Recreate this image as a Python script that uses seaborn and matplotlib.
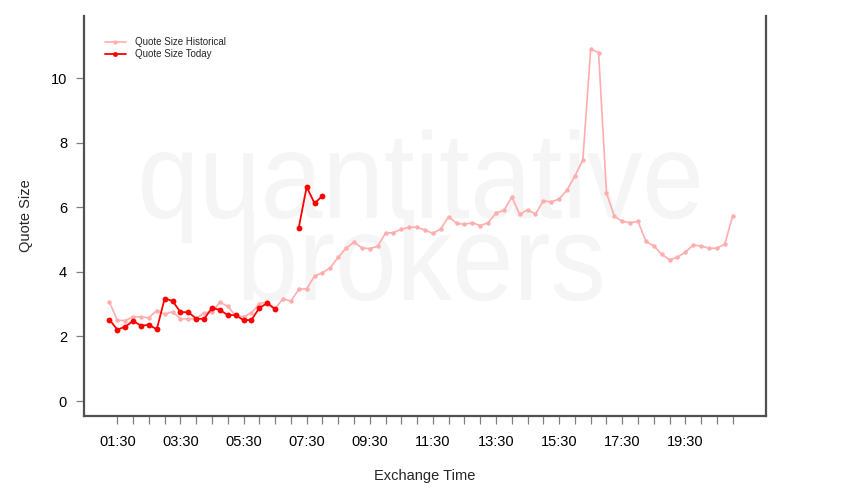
import numpy as np
import pandas as pd
import matplotlib
matplotlib.use("Agg")
import matplotlib.pyplot as plt
from matplotlib.lines import Line2D
from matplotlib.patheffects import AbstractPathEffect
from matplotlib.transforms import Affine2D
import seaborn as sns

# ---------------- data ----------------
start_time = "01:15"
step = "15min"
historical = [3.06, 2.50, 2.49, 2.61, 2.60, 2.58, 2.80, 2.69, 2.76, 2.55,
              2.54, 2.55, 2.73, 2.76, 3.06, 2.93, 2.64, 2.61, 2.73, 3.01,
              3.07, 2.86, 3.17, 3.09, 3.46, 3.47, 3.87, 3.97, 4.13, 4.45,
              4.73, 4.92, 4.74, 4.72, 4.79, 5.20, 5.21, 5.32, 5.38, 5.38,
              5.29, 5.19, 5.33, 5.71, 5.50, 5.47, 5.52, 5.43, 5.52, 5.82,
              5.90, 6.32, 5.78, 5.92, 5.79, 6.20, 6.16, 6.26, 6.53, 6.97,
              7.46, 10.90, 10.78, 6.44, 5.72, 5.56, 5.52, 5.56, 4.94, 4.80,
              4.54, 4.37, 4.45, 4.61, 4.83, 4.80, 4.73, 4.73, 4.86, 5.74]
today = [2.52, 2.21, 2.30, 2.48, 2.33, 2.36, 2.22, 3.17, 3.10, 2.75,
         2.75, 2.55, 2.54, 2.88, 2.82, 2.66, 2.66, 2.50, 2.51, 2.88,
         3.03, 2.84, np.nan, np.nan, 5.37, 6.63, 6.12, 6.35]
tick_labels = ["01:30", "03:30", "05:30", "07:30", "09:30",
               "11:30", "13:30", "15:30", "17:30", "19:30"]
y_ticks = [0, 2, 4, 6, 8, 10]
series_names = ["Quote Size Historical", "Quote Size Today"]
watermark = ["quantitative", "brokers"]


class HStretch(AbstractPathEffect):
    """Squeeze text horizontally about its own centre (narrow-font look)."""
    def __init__(self, sx):
        super().__init__()
        self.sx = sx

    def draw_path(self, renderer, gc, tpath, affine, rgbFace=None):
        ext = tpath.get_extents(affine)
        cx = 0.5 * (ext.x0 + ext.x1)
        new_affine = affine + Affine2D().translate(-cx, 0).scale(self.sx, 1).translate(cx, 0)
        renderer.draw_path(gc, tpath, new_affine, rgbFace)


def to_hours(ts):
    return ts.hour + ts.minute / 60.0


# ---------------- frames ----------------
times = pd.date_range(pd.Timestamp("1900-01-01 " + start_time),
                      periods=len(historical), freq=step)
hours = np.asarray(to_hours(times), dtype=float)

df_hist = pd.DataFrame({"hour": hours, "value": historical})
df_today = pd.DataFrame({"hour": hours[:len(today)], "value": today})
df_today["segment"] = df_today["value"].isna().cumsum()
df_today = df_today.dropna()

# ---------------- plot ----------------
sns.set_theme(style="white")
plt.rcParams["font.family"] = ["Liberation Sans", "DejaVu Sans"]

fig = plt.figure(figsize=(8.5, 5), dpi=100)
ax = fig.add_axes([83.7 / 850, 1 - 415.7 / 500, 682 / 850, 399.7 / 500])

hist_col = "#ffadad"
today_col = "#ff0000"

sns.lineplot(data=df_hist, x="hour", y="value", ax=ax, color=hist_col,
             marker="o", markersize=3.2, markeredgewidth=0, linewidth=1.2,
             zorder=3, legend=False)
sns.lineplot(data=df_today, x="hour", y="value", units="segment",
             estimator=None, ax=ax, color=today_col, marker="o",
             markersize=4.2, markeredgewidth=0, linewidth=1.3,
             zorder=4, legend=False)

# watermark
wm_kw = dict(transform=ax.transAxes, ha="center", va="baseline",
             color="#f5f5f5", fontsize=88, zorder=0,
             path_effects=[HStretch(0.906)])
ax.text(0.4946, 0.495, watermark[0], **wm_kw)
ax.text(0.4946, 0.2895, watermark[1], **wm_kw)

# axes
ax.set_xlim(0.435, 22.045)
ax.set_ylim(-0.455, 11.92)
ax.set_yticks(y_ticks)
ax.set_yticklabels([str(v) for v in y_ticks])
label_pos = [to_hours(pd.Timestamp("1900-01-01 " + t)) for t in tick_labels]
all_ticks = np.arange(label_pos[0], hours[-1] + 0.01, 0.5)
ax.set_xticks(all_ticks)
ax.set_xticklabels([tick_labels[label_pos.index(t)] if t in label_pos else ""
                    for t in all_ticks])

for s in ["left", "bottom", "right"]:
    ax.spines[s].set_visible(True)
    ax.spines[s].set_color("#505050")
    ax.spines[s].set_linewidth(1.6)
ax.spines["top"].set_visible(False)

ax.tick_params(axis="both", which="major", direction="out", length=6,
               width=0.9, color="#808080", labelsize=10.5, labelcolor="black")
ax.tick_params(axis="x", pad=8, bottom=True)
ax.tick_params(axis="y", pad=6, left=True)
ax.set_facecolor("white")

ax.set_xlabel("Exchange Time", fontsize=10.5, labelpad=14)
ax.set_ylabel("Quote Size", fontsize=10.5, labelpad=13)

handles = [Line2D([], [], color=hist_col, marker="o", markersize=3,
                  markeredgewidth=0, linewidth=1.2),
           Line2D([], [], color=today_col, marker="o", markersize=3.5,
                  markeredgewidth=0, linewidth=1.3)]
ax.legend(handles, series_names, loc="upper left",
          bbox_to_anchor=(0.023, 0.962), frameon=False, fontsize=7,
          handlelength=2.1, handletextpad=0.95, labelspacing=0.2,
          borderaxespad=0.2)

fig.savefig("out.png", dpi=100, facecolor="white")
